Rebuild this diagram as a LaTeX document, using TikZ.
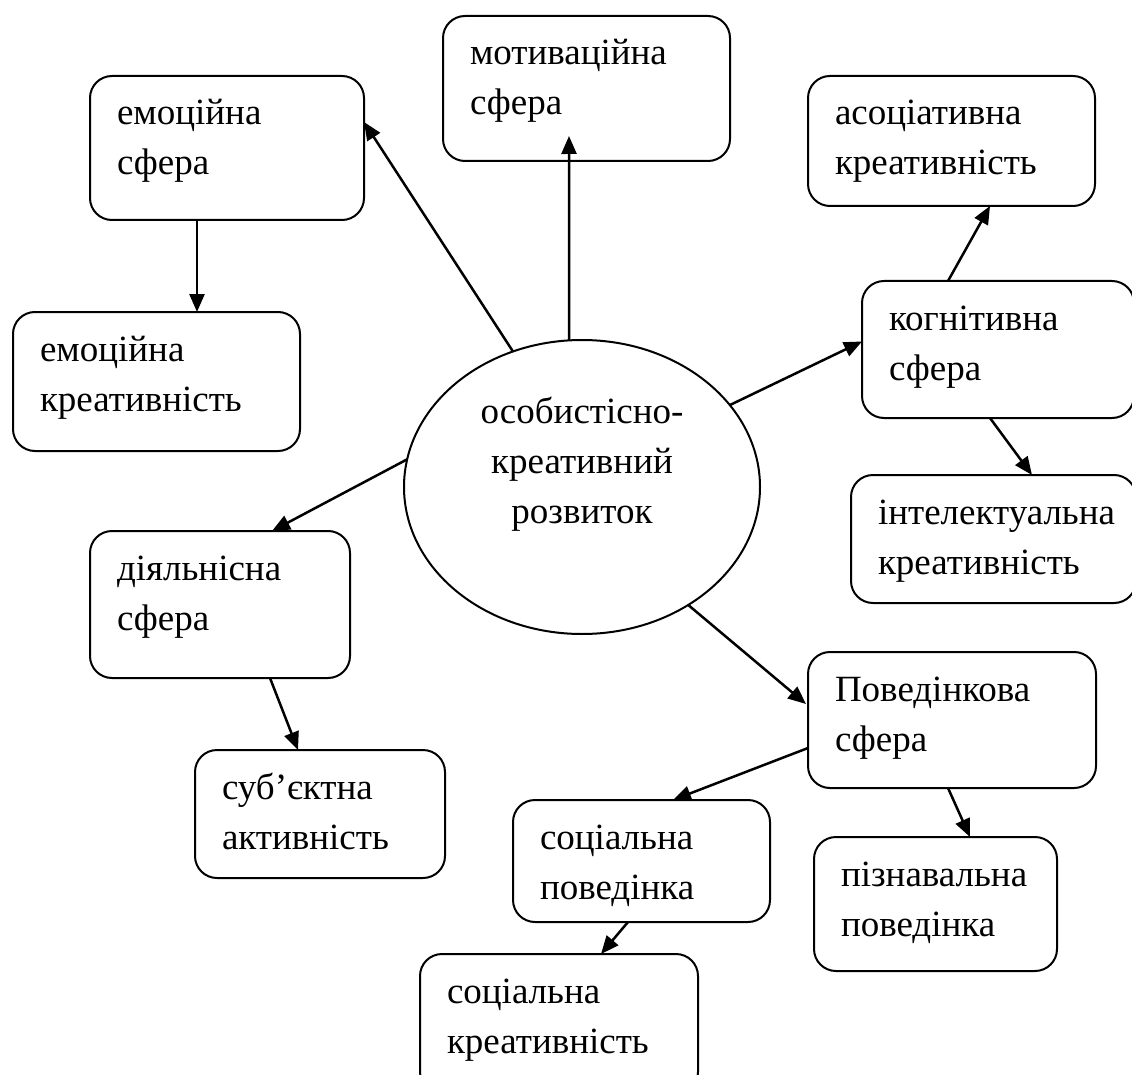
\documentclass[tikz,border=0pt]{standalone}
\usepackage{fontspec}
\setmainfont{Liberation Serif}
\usetikzlibrary{arrows.meta,calc,shapes.geometric}
\newcommand{\boxtext}[3]{\parbox[c][#2pt][t]{#1pt}{\raggedright\leftskip=27pt\hyphenpenalty=10000\rule{0pt}{49pt}#3}}
\tikzset{
	rbox/.style={draw, rounded corners=22pt, line width=2pt, inner sep=0pt, outer sep=0pt, anchor=north west},
	link/.style={->, line width=2.5pt},
}

\begin{document}
\begin{tikzpicture}[x=1pt, y=-1pt, font=\fontsize{37}{50}\selectfont, >={Triangle[length=18pt,width=15pt]}]
				\clip (0,0) rectangle (1132,1075);
				
				\node[draw, ellipse, line width=2pt, inner sep=0pt, outer sep=0pt, minimum width=356pt, minimum height=294pt] (ell) at (582,487) {\parbox[c][190pt][t]{240pt}{\centering\rule{0pt}{31pt}особистісно-\\креативний\\розвиток}};
				
				\node[rbox] (mot) at (443,16) {\boxtext{287}{145}{мотиваційна\\сфера}};
				\node[rbox] (emo) at (90,76) {\boxtext{274}{144}{емоційна\\сфера}};
				\node[rbox] (emocr) at (13,312) {\boxtext{287}{139}{емоційна\\креативність}};
				\node[rbox] (asoc) at (808,76) {\boxtext{287}{130}{асоціативна\\креативність}};
				\node[rbox] (cog) at (862,281) {\boxtext{272}{137}{когнітивна\\сфера}};
				\node[rbox] (intel) at (851,475) {\boxtext{285}{128}{інтелектуальна\\креативність}};
				\node[rbox] (dial) at (90,531) {\boxtext{260}{147}{діяльнісна\\сфера}};
				\node[rbox] (subj) at (195,750) {\boxtext{250}{128}{суб’єктна\\активність}};
				\node[rbox] (pov) at (808,652) {\boxtext{288}{136}{Поведінкова\\сфера}};
				\node[rbox] (socpov) at (513,800) {\boxtext{257}{122}{соціальна\\поведінка}};
				\node[rbox] (piznav) at (814,837) {\boxtext{243}{134}{пізнавальна\\поведінка}};
				\node[rbox] (soccr) at (420,954) {\boxtext{278}{140}{соціальна\\креативність}};
				
				\draw[link] (ell.117) -- ($(emo.north east)+(0,46)$);
				\draw[link] (ell.95) -- ($(mot.south west)+(126,-25)$);
				\draw[link] (ell.29) -- ($(cog.west)+(0,-8)$);
				\draw[link] (ell.171) -- ($(dial.north west)+(182,0)$);
				\draw[link] (ell.-48) -- ($(pov.north west)+(-2,52)$);
				
				\draw[link] ($(emo.south west)+(107,0)$) -- ($(emocr.north west)+(184,0)$);
				\draw[link] ($(cog.north west)+(86,0)$) -- ($(asoc.south west)+(182,0)$);
				\draw[link] ($(cog.south west)+(128,0)$) -- ($(intel.north west)+(181,0)$);
				\draw[link] ($(dial.south west)+(180,0)$) -- ($(subj.north west)+(103,0)$);
				\draw[link] ($(pov.north west)+(0,96)$) -- ($(socpov.north west)+(160,0)$);
				\draw[link] ($(pov.south west)+(140,0)$) -- ($(piznav.north west)+(156,0)$);
				\draw[link] ($(socpov.south west)+(115,0)$) -- ($(soccr.north west)+(181,0)$);
\end{tikzpicture}
\end{document}
